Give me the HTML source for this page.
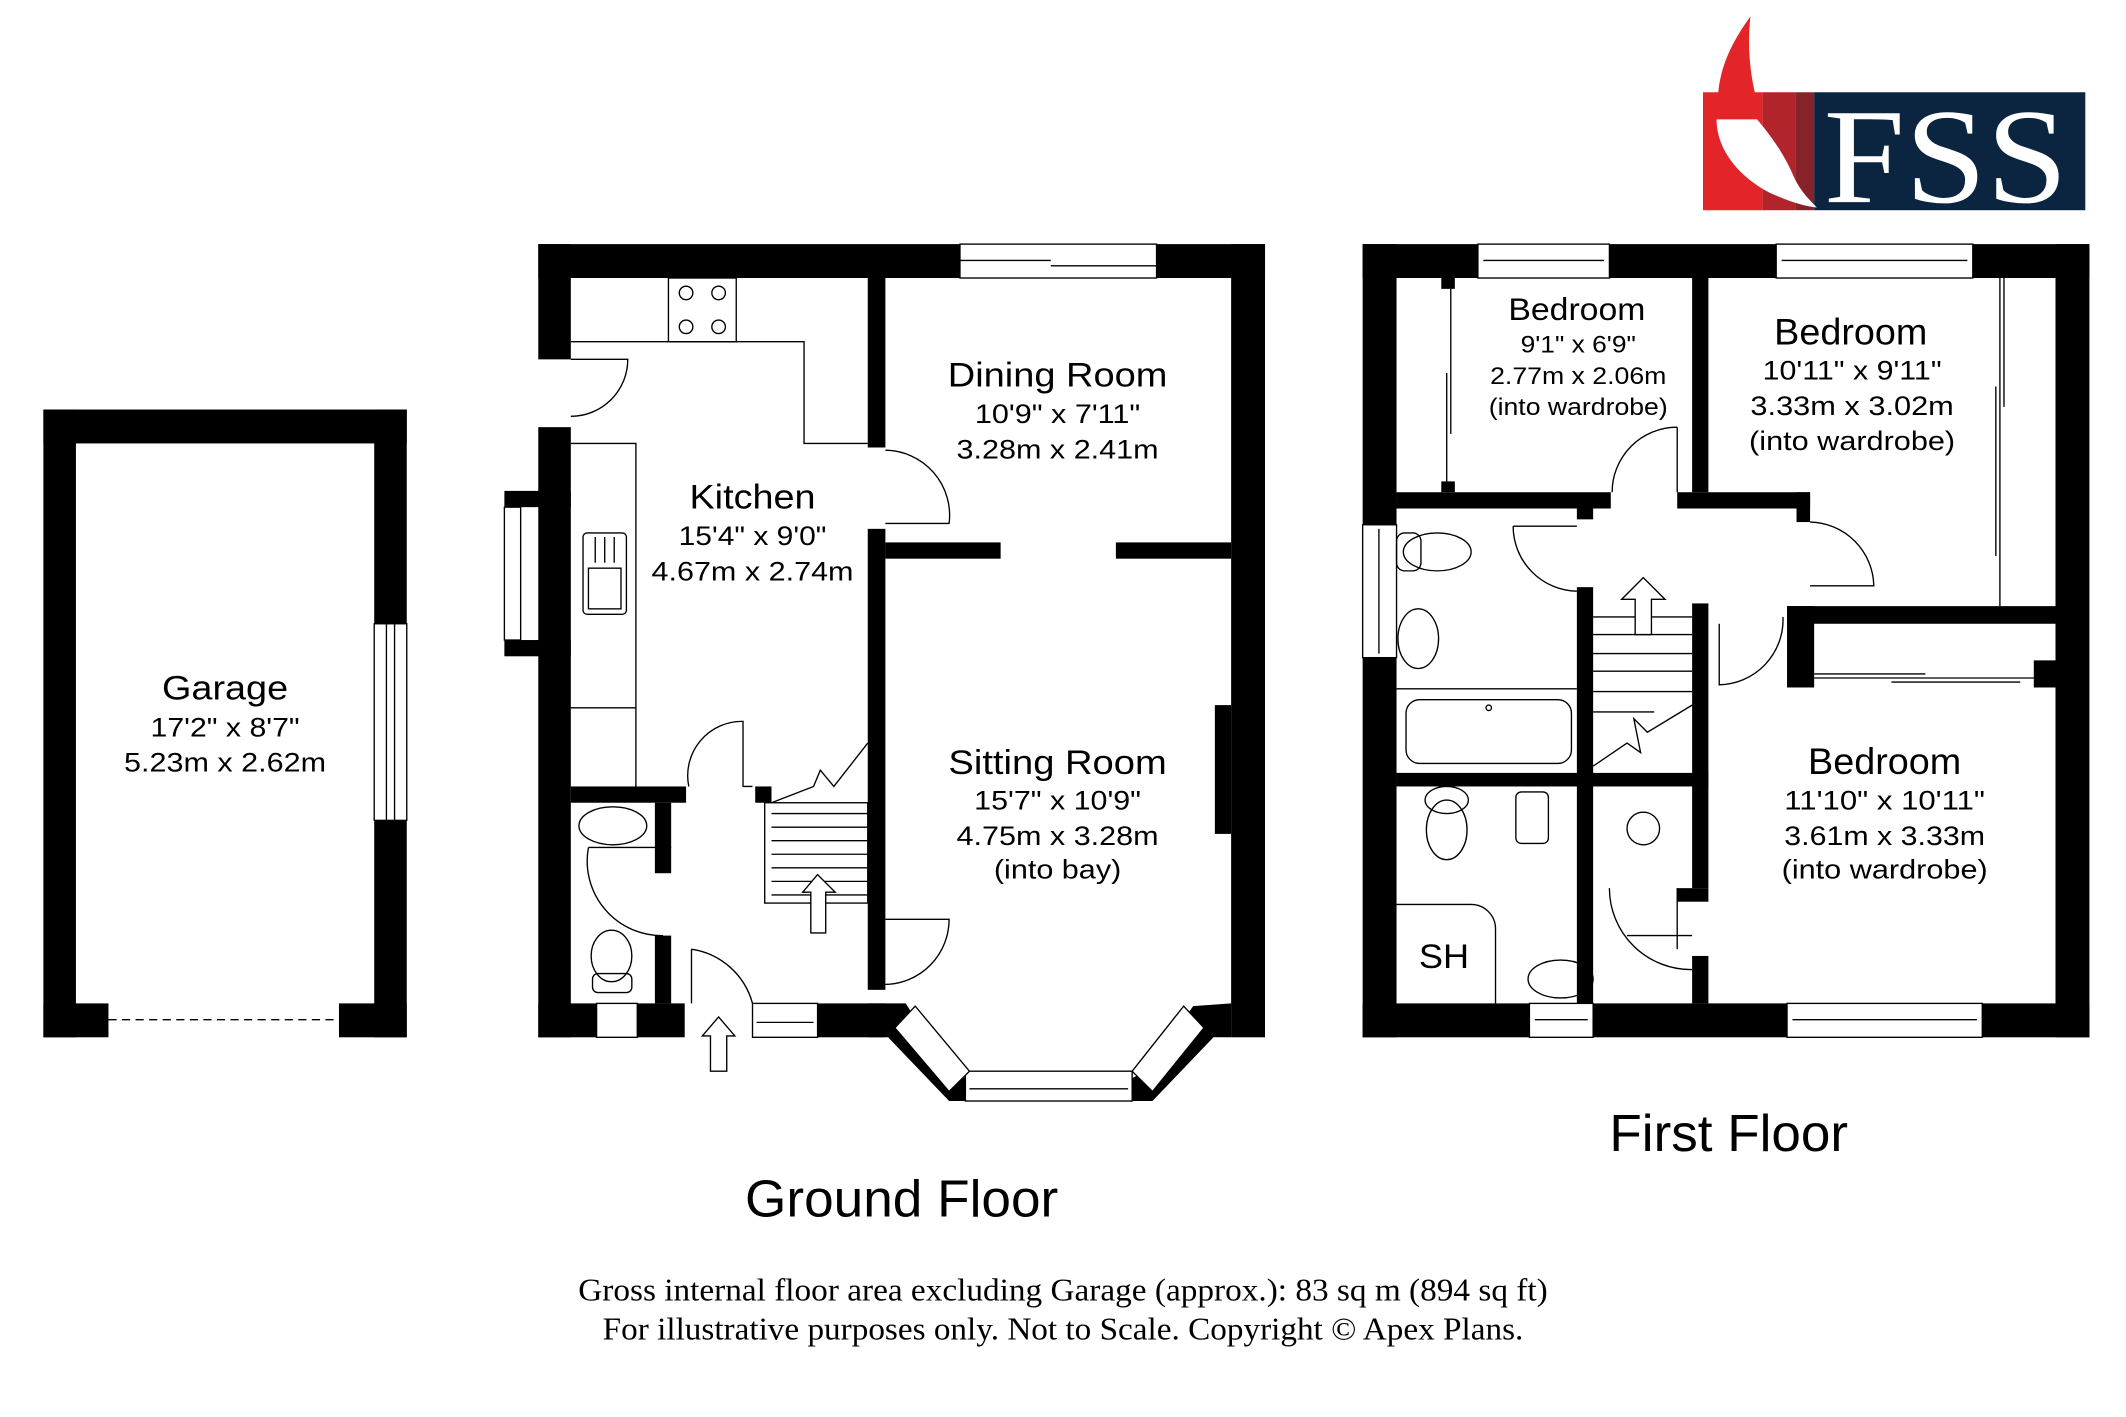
<!DOCTYPE html>
<html><head><meta charset="utf-8"><style>
html,body{margin:0;padding:0;background:#fff;}
svg{display:block;}
text{font-family:"Liberation Sans",Arial,sans-serif;fill:#000;text-anchor:middle;}
.s{font-family:"Liberation Serif",serif;}
.ln{fill:none;stroke:#000;stroke-width:1;}
.w{fill:#fff;stroke:#000;stroke-width:1;}
</style></head><body>
<svg width="2126" height="1417" viewBox="0 0 1568 1045" xmlns="http://www.w3.org/2000/svg">
<rect width="1568" height="1045" fill="#fff"/>

<!-- LOGO -->
<rect x="1256" y="68" width="44" height="87" fill="#e32428"/>
<rect x="1300" y="68" width="24" height="87" fill="#b2242b"/>
<rect x="1324" y="68" width="14" height="87" fill="#86232a"/>
<rect x="1338" y="68" width="200" height="87" fill="#0b2440"/>
<path d="M1291,12 C1272,38 1264,62 1268,88 L1300,88 C1292,65 1288,40 1291,12 Z" fill="#e32428"/>
<path d="M1266,88 C1266,110 1282,130 1305,142 C1318,148 1330,152 1340,153 C1332,145 1326,138 1322,128 C1314,110 1304,98 1296,88 Z" fill="#fff"/>
<text x="1435" y="149" class="s" textLength="180" lengthAdjust="spacingAndGlyphs" style="font-size:100px;fill:#fff">FSS</text>

<!-- GARAGE -->
<g fill="#000">
<rect x="32" y="302" width="268" height="25"/>
<rect x="32" y="302" width="24" height="463"/>
<rect x="276" y="302" width="24" height="463"/>
<rect x="32" y="740" width="48" height="25"/>
<rect x="250" y="740" width="50" height="25"/>
</g>
<rect x="276" y="460" width="24" height="145" class="w"/>
<line x1="285" y1="460" x2="285" y2="605" class="ln"/><line x1="291" y1="460" x2="291" y2="605" class="ln"/>
<line x1="80" y1="752" x2="250" y2="752" stroke="#000" stroke-dasharray="6,4"/>
<text x="166" y="516" textLength="93" lengthAdjust="spacingAndGlyphs" style="font-size:25px">Garage</text>
<text x="166" y="543" textLength="110" lengthAdjust="spacingAndGlyphs" style="font-size:20px">17'2" x 8'7"</text>
<text x="166" y="569" textLength="149" lengthAdjust="spacingAndGlyphs" style="font-size:20px">5.23m x 2.62m</text>

<!-- GROUND FLOOR -->
<g fill="#000">
<rect x="397" y="180" width="311" height="25"/>
<rect x="853" y="180" width="80" height="25"/>
<rect x="908" y="180" width="25" height="585"/>
<rect x="397" y="180" width="24" height="85"/>
<rect x="397" y="315" width="24" height="450"/>
<rect x="372" y="362" width="49" height="12"/>
<rect x="372" y="472" width="49" height="12"/>
<rect x="640" y="205" width="13" height="125"/>
<rect x="640" y="390" width="13" height="340"/>
<rect x="653" y="400" width="85" height="12"/>
<rect x="823" y="400" width="85" height="12"/>
<rect x="896" y="520" width="12" height="95"/>
<rect x="421" y="580" width="85" height="12"/>
<rect x="483" y="592" width="12" height="52"/>
<rect x="483" y="690" width="12" height="50"/>
<rect x="397" y="740" width="108" height="25"/>
<rect x="555" y="740" width="98" height="25"/>
<rect x="557" y="580" width="12" height="12"/>
<polygon points="640,740 653,740 668,740 700,790 712,795 712,812 700,812 655,765 640,765"/>
<polygon points="908,740 908,765 895,765 850,812 835,812 835,795 846,790 880,742"/>
</g>
<!-- windows GF -->
<rect x="708" y="180" width="145" height="25" class="w"/>
<line x1="708" y1="192" x2="775" y2="192" class="ln"/><line x1="775" y1="196" x2="853" y2="196" class="ln"/>
<rect x="372" y="374" width="12" height="98" class="w"/>
<rect x="440" y="740" width="30" height="25" class="w"/>
<rect x="555" y="740" width="48" height="25" class="w"/>
<line x1="558" y1="754" x2="600" y2="754" class="ln"/>
<rect x="712" y="790" width="123" height="22" class="w"/>
<line x1="715" y1="803" x2="832" y2="803" class="ln"/>
<polygon points="660,758 675,742 715,790 700,805" class="w"/>
<polygon points="888,758 873,742 835,790 850,805" class="w"/>
<!-- kitchen fittings -->
<polyline points="421,252 593,252 593,327 640,327" class="ln"/>
<rect x="493" y="205" width="50" height="47" class="ln"/>
<circle cx="506" cy="216" r="5" class="ln"/><circle cx="530" cy="216" r="5" class="ln"/>
<circle cx="506" cy="241" r="5" class="ln"/><circle cx="530" cy="241" r="5" class="ln"/>
<polyline points="421,327 469,327 469,580" class="ln"/>
<line x1="421" y1="522" x2="469" y2="522" class="ln"/>
<rect x="430" y="393" width="32" height="60" rx="3" class="ln"/>
<rect x="434" y="419" width="24" height="30" class="ln"/>
<line x1="439" y1="396" x2="439" y2="415" class="ln"/><line x1="446" y1="396" x2="446" y2="415" class="ln"/><line x1="453" y1="396" x2="453" y2="415" class="ln"/>
<!-- doors GF -->
<path d="M421,265 L463,265 A42,42 0 0 1 421,307" class="ln"/>
<path d="M653,332 A48,48 0 0 1 700,386 L653,386" class="ln"/>
<path d="M555,580 L548,580 L548,532 A40,40 0 0 0 508,580" class="ln"/>
<path d="M434,625 L495,625 M434,625 A55,55 0 0 0 489,690" class="ln"/>
<path d="M653,678 L700,678 A48,48 0 0 1 653,726" class="ln"/>
<path d="M510,700 L510,740 M510,700 A55,55 0 0 1 555,740" class="ln"/>
<!-- stairs GF -->
<rect x="564" y="592" width="76" height="74" class="ln"/>
<g class="ln">
<line x1="569" y1="600" x2="640" y2="600"/><line x1="569" y1="610" x2="640" y2="610"/><line x1="569" y1="620" x2="640" y2="620"/>
<line x1="569" y1="630" x2="640" y2="630"/><line x1="569" y1="640" x2="640" y2="640"/><line x1="569" y1="650" x2="640" y2="650"/><line x1="569" y1="660" x2="640" y2="660"/>
<polyline points="569,592 600,580 605,568 615,580 640,548"/>
</g>
<polygon points="603,645 592,658 598,658 598,688 609,688 609,658 616,658" class="w"/>
<polygon points="530,750 518,764 524,764 524,790 536,790 536,764 542,764" class="w"/>
<!-- WC -->
<ellipse cx="452" cy="609" rx="25" ry="14" class="ln"/>
<ellipse cx="451" cy="705" rx="15" ry="19" class="ln"/>
<rect x="437" y="718" width="29" height="14" rx="4" class="ln"/>

<text x="555" y="375" textLength="93" lengthAdjust="spacingAndGlyphs" style="font-size:25px">Kitchen</text>
<text x="555" y="402" textLength="109" lengthAdjust="spacingAndGlyphs" style="font-size:20px">15'4" x 9'0"</text>
<text x="555" y="428" textLength="149" lengthAdjust="spacingAndGlyphs" style="font-size:20px">4.67m x 2.74m</text>
<text x="780" y="285" textLength="162" lengthAdjust="spacingAndGlyphs" style="font-size:25px">Dining Room</text>
<text x="780" y="312" textLength="122" lengthAdjust="spacingAndGlyphs" style="font-size:20px">10'9" x 7'11"</text>
<text x="780" y="338" textLength="149" lengthAdjust="spacingAndGlyphs" style="font-size:20px">3.28m x 2.41m</text>
<text x="780" y="571" textLength="161" lengthAdjust="spacingAndGlyphs" style="font-size:25px">Sitting Room</text>
<text x="780" y="597" textLength="123" lengthAdjust="spacingAndGlyphs" style="font-size:20px">15'7" x 10'9"</text>
<text x="780" y="623" textLength="149" lengthAdjust="spacingAndGlyphs" style="font-size:20px">4.75m x 3.28m</text>
<text x="780" y="648" textLength="94" lengthAdjust="spacingAndGlyphs" style="font-size:20px">(into bay)</text>
<text x="665" y="897" textLength="231" lengthAdjust="spacingAndGlyphs" style="font-size:38px">Ground Floor</text>

<!-- FIRST FLOOR -->
<g fill="#000">
<rect x="1005" y="180" width="536" height="25"/>
<rect x="1005" y="180" width="25" height="585"/>
<rect x="1516" y="180" width="25" height="585"/>
<rect x="1005" y="740" width="536" height="25"/>
<rect x="1030" y="363" width="158" height="12"/>
<rect x="1163" y="375" width="12" height="8"/>
<rect x="1237" y="363" width="98" height="12"/>
<rect x="1325" y="363" width="10" height="22"/>
<rect x="1248" y="205" width="12" height="158"/>
<rect x="1163" y="433" width="12" height="307"/>
<rect x="1030" y="570" width="230" height="10"/>
<rect x="1248" y="445" width="12" height="210"/>
<rect x="1237" y="655" width="23" height="10"/>
<rect x="1248" y="705" width="12" height="35"/>
<rect x="1318" y="447" width="198" height="13"/>
<rect x="1318" y="447" width="20" height="60"/>
<rect x="1500" y="487" width="16" height="20"/>
<rect x="1063" y="205" width="10" height="8"/>
<rect x="1063" y="355" width="10" height="8"/>
</g>
<rect x="1090" y="180" width="97" height="25" class="w"/>
<line x1="1094" y1="192" x2="1183" y2="192" class="ln"/>
<rect x="1310" y="180" width="145" height="25" class="w"/>
<line x1="1314" y1="192" x2="1451" y2="192" class="ln"/>
<rect x="1005" y="387" width="25" height="98" class="w"/>
<line x1="1017" y1="390" x2="1017" y2="482" class="ln"/>
<rect x="1128" y="740" width="47" height="25" class="w"/>
<line x1="1132" y1="752" x2="1171" y2="752" class="ln"/>
<rect x="1318" y="740" width="144" height="25" class="w"/>
<line x1="1322" y1="752" x2="1458" y2="752" class="ln"/>
<!-- wardrobes -->
<line x1="1070" y1="213" x2="1070" y2="320" class="ln"/><line x1="1067" y1="275" x2="1067" y2="355" class="ln"/>
<line x1="1475" y1="205" x2="1475" y2="447" class="ln"/>
<line x1="1478" y1="205" x2="1478" y2="300" class="ln"/><line x1="1472" y1="285" x2="1472" y2="410" class="ln"/>
<line x1="1338" y1="500" x2="1516" y2="500" class="ln"/>
<line x1="1338" y1="497" x2="1420" y2="497" class="ln"/><line x1="1395" y1="503" x2="1490" y2="503" class="ln"/>
<!-- doors FF -->
<path d="M1237,315 L1237,363 M1237,315 A48,48 0 0 0 1189,363" class="ln"/>
<path d="M1116,388 L1163,388 M1116,388 A48,48 0 0 0 1163,436" class="ln"/>
<path d="M1335,385 A48,48 0 0 1 1382,432 L1335,432" class="ln"/>
<path d="M1268,460 L1268,505 A48,48 0 0 0 1315,455" class="ln"/>
<path d="M1187,655 A60,60 0 0 0 1248,715 M1237,655 L1237,700 M1200,690 L1248,690" class="ln"/>
<!-- stairs FF -->
<g class="ln">
<line x1="1175" y1="455" x2="1248" y2="455"/><line x1="1175" y1="468" x2="1248" y2="468"/><line x1="1175" y1="482" x2="1248" y2="482"/>
<line x1="1175" y1="495" x2="1248" y2="495"/><line x1="1175" y1="510" x2="1248" y2="510"/><line x1="1175" y1="525" x2="1220" y2="525"/>
<polyline points="1175,565 1200,548 1210,555 1205,530 1215,540 1248,520"/>
</g>
<polygon points="1212,426 1196,442 1206,442 1206,468 1218,468 1218,442 1228,442" class="w"/>
<!-- bathroom fittings -->
<ellipse cx="1060" cy="407" rx="25" ry="14" class="ln"/>
<rect x="1030" y="393" width="18" height="28" rx="6" class="ln"/>
<ellipse cx="1046" cy="471" rx="15" ry="22" class="ln"/>
<line x1="1030" y1="508" x2="1163" y2="508" class="ln"/>
<rect x="1037" y="516" width="122" height="47" rx="10" class="ln"/>
<circle cx="1098" cy="522" r="2" class="ln"/>
<ellipse cx="1067" cy="612" rx="15" ry="22" class="ln"/>
<ellipse cx="1067" cy="590" rx="16" ry="10" class="ln"/>
<rect x="1118" y="584" width="24" height="38" rx="4" class="ln"/>
<circle cx="1212" cy="611" r="12" class="ln"/>
<path d="M1030,667 L1085,667 A18,18 0 0 1 1103,685 L1103,740" class="ln"/>
<ellipse cx="1151" cy="722" rx="24" ry="14" class="ln"/>

<text x="1163" y="236" textLength="101" lengthAdjust="spacingAndGlyphs" style="font-size:23px">Bedroom</text>
<text x="1164" y="260" textLength="85" lengthAdjust="spacingAndGlyphs" style="font-size:18px">9'1" x 6'9"</text>
<text x="1164" y="283" textLength="130" lengthAdjust="spacingAndGlyphs" style="font-size:18px">2.77m x 2.06m</text>
<text x="1164" y="306" textLength="132" lengthAdjust="spacingAndGlyphs" style="font-size:18px">(into wardrobe)</text>
<text x="1365" y="254" textLength="113" lengthAdjust="spacingAndGlyphs" style="font-size:27px">Bedroom</text>
<text x="1366" y="280" textLength="132" lengthAdjust="spacingAndGlyphs" style="font-size:20px">10'11" x 9'11"</text>
<text x="1366" y="306" textLength="150" lengthAdjust="spacingAndGlyphs" style="font-size:20px">3.33m x 3.02m</text>
<text x="1366" y="332" textLength="152" lengthAdjust="spacingAndGlyphs" style="font-size:20px">(into wardrobe)</text>
<text x="1390" y="571" textLength="113" lengthAdjust="spacingAndGlyphs" style="font-size:27px">Bedroom</text>
<text x="1390" y="597" textLength="148" lengthAdjust="spacingAndGlyphs" style="font-size:20px">11'10" x 10'11"</text>
<text x="1390" y="623" textLength="148" lengthAdjust="spacingAndGlyphs" style="font-size:20px">3.61m x 3.33m</text>
<text x="1390" y="648" textLength="152" lengthAdjust="spacingAndGlyphs" style="font-size:20px">(into wardrobe)</text>
<text x="1065" y="714" textLength="37" lengthAdjust="spacingAndGlyphs" style="font-size:25px">SH</text>
<text x="1275" y="849" textLength="176" lengthAdjust="spacingAndGlyphs" style="font-size:38px">First Floor</text>

<text x="784" y="959" class="s" textLength="715" lengthAdjust="spacingAndGlyphs" style="font-size:23px">Gross internal floor area excluding Garage (approx.): 83 sq m (894 sq ft)</text>
<text x="784" y="988" class="s" textLength="679" lengthAdjust="spacingAndGlyphs" style="font-size:23px">For illustrative purposes only. Not to Scale. Copyright © Apex Plans.</text>
</svg>
</body></html>
